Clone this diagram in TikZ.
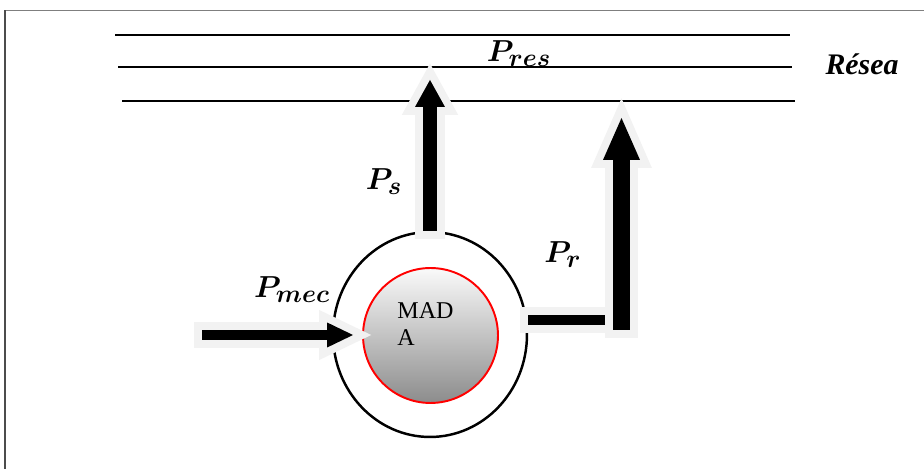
\documentclass[tikz,border=0pt]{standalone}
\usepackage{fontspec}
\setmainfont{Liberation Serif}
\usepackage{amsmath,amssymb}
\DeclareMathSizes{18}{18}{13.5}{10}
\usetikzlibrary{positioning,calc,shapes.geometric,arrows.meta}
\definecolor{encre}{HTML}{000000}
\definecolor{rouge}{HTML}{FF0000}
\definecolor{halo}{HTML}{F2F2F2}
\definecolor{cadre}{HTML}{7F7F7F}
\definecolor{grisclair}{HTML}{FAFAFA}
\definecolor{grisfonce}{HTML}{8C8C8C}

\begin{document}
\begin{tikzpicture}[x=0.02cm, y=-0.02cm,
  fleche/.style n args={3}{draw=encre, line width=#1, -{Triangle[length=#2, width=#3, line width=0pt]}},
  halofl/.style n args={4}{draw=halo, line width=#1, shorten <=-4.5pt, shorten >=-#4, -{Triangle[length=#2, width=#3, line width=0pt]}},
  lbl/.style={font=\fontsize{18}{20}\selectfont, anchor=base, inner sep=0pt}]
\useasboundingbox (0,0) rectangle (924,469);

% cadre
\draw[cadre, line width=1.1pt] (5,10.5) -- (924,10.5);
\draw[cadre!60!black, line width=0.6pt] (5,10.5) -- (5,469);

% ================= reseau =================
\coordinate (r1a) at (115,35);  \coordinate (r1b) at (790,35);
\coordinate (r2a) at (118,67);  \coordinate (r2b) at (792,67);
\coordinate (r3a) at (122,101); \coordinate (r3b) at (795,101);
\draw[line width=0.8pt] (r1a) -- (r1b);
\draw[line width=0.8pt] (r2a) -- (r2b);
\draw[line width=0.8pt] (r3a) -- (r3b);
\node[font=\fontsize{17}{20}\selectfont\bfseries\itshape, anchor=base, inner sep=0pt] (reseau) at (862,75) {Résea};
\node[lbl] (lab_pres) at (519,62) {$\boldsymbol{P_{res}}$};

% ================= machine =================
\node[draw=encre, ellipse, line width=1.4pt, minimum width=3.88cm, minimum height=4.1cm, inner sep=0pt] (stator) at (430,334.5) {};
\node[circle, draw=rouge, line width=1.1pt, top color=grisclair, bottom color=grisfonce, minimum size=2.7cm, inner sep=0pt] (mada) at (430.5,335.5) {};

% points des fleches
\coordinate (ps_pointe) at (430,80);
\coordinate (pr_coude) at (605,320);
\coordinate (pr_bas) at (621.5,330);
\coordinate (pr_pointe) at (621.5,118);
\coordinate (pmec_depart) at (202,335);
\coordinate (pmec_pointe) at (353,335);

% halos
\draw[halofl={17pt}{29.2pt}{32pt}{9.4pt}] (stator.north) -- (ps_pointe);
\draw[halo, line width=14.7pt, shorten <=-4.5pt, shorten >=-4.5pt] (pr_coude -| stator.east) -- (pr_coude);
\draw[halofl={18.7pt}{39.6pt}{34.6pt}{11.2pt}] (pr_bas) -- (pr_pointe);
\draw[halofl={14.7pt}{29.7pt}{28.6pt}{10.4pt}] (pmec_depart) -- (pmec_pointe);

% fleches de puissance
\draw[fleche={7.9pt}{15.3pt}{17pt}] (stator.north) -- (ps_pointe);
\draw[encre, line width=5.7pt] (pr_coude -| stator.east) -- (pr_coude);
\draw[fleche={9.6pt}{23.8pt}{21pt}] (pr_bas) -- (pr_pointe);
\draw[fleche={5.7pt}{14.7pt}{14.2pt}] (pmec_depart) -- (pmec_pointe);

% textes
\node[font=\fontsize{13.7}{15.9}\selectfont, align=left, anchor=base west, inner sep=0pt] (nom) at (397,346) {MAD\\A};
\node[lbl] (lab_ps) at (384,190) {$\boldsymbol{P_{s}}$};
\node[lbl] (lab_pr) at (563,263) {$\boldsymbol{P_{r}}$};
\node[lbl] (lab_pmec) at (292,298) {$\boldsymbol{P_{mec}}$};
\end{tikzpicture}
\end{document}
